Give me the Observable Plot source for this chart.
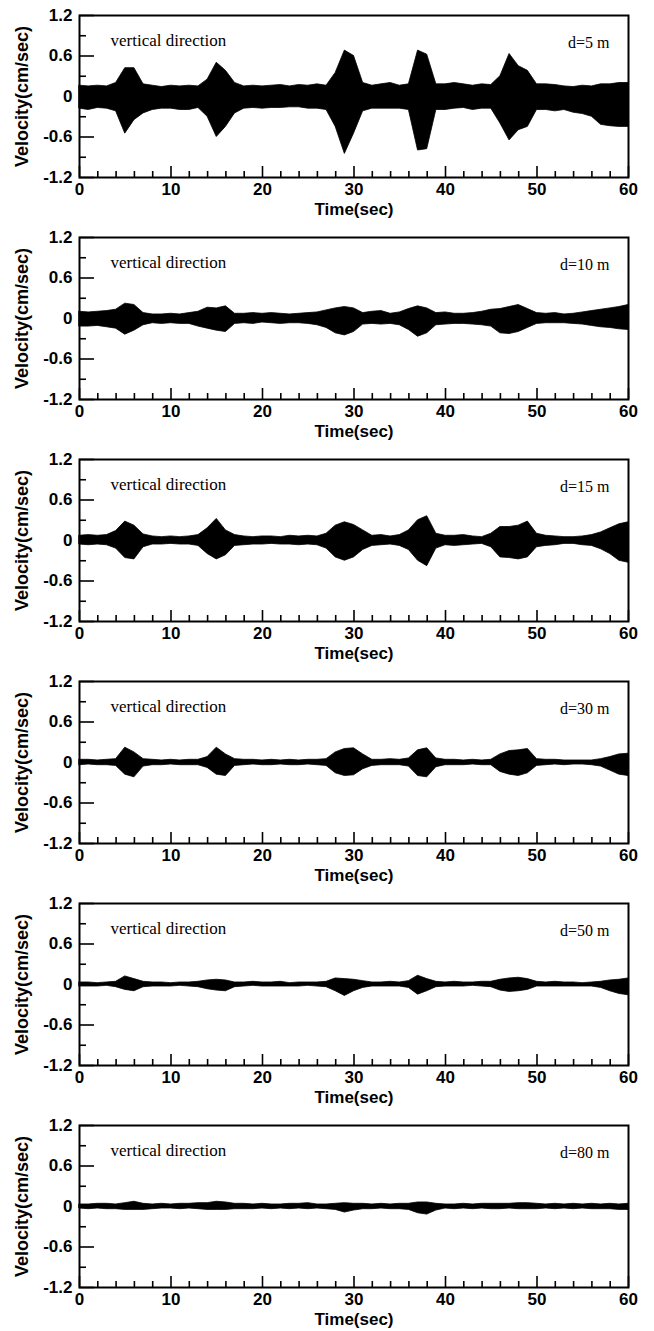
<!DOCTYPE html>
<html>
<head>
<meta charset="utf-8">
<script src="https://cdn.jsdelivr.net/npm/d3@7"></script>
<script src="https://cdn.jsdelivr.net/npm/@observablehq/plot@0.6"></script>
<style>
  html, body { margin: 0; padding: 0; background: #fff; }
  #chart svg { display: block; }
</style>
</head>
<body>
<div id="chart"></div>
<script>
// Time axis (seconds)
const time = [0,1,2,3,4,5,6,7,8,9,10,11,12,13,14,15,16,17,18,19,20,21,22,23,24,25,26,27,28,29,30,
  31,32,33,34,35,36,37,38,39,40,41,42,43,44,45,46,47,48,49,50,51,52,53,54,55,56,57,58,59,60];

// Panel labels
const panelLabels = ["d=5 m", "d=10 m", "d=15 m", "d=30 m", "d=50 m", "d=80 m"];
const directionLabel = "vertical direction";
const xAxisTitle = "Time(sec)";
const yAxisTitle = "Velocity(cm/sec)";

// Tick values / labels
const xMajor = [0, 10, 20, 30, 40, 50, 60];
const xMinor = [2, 4, 6, 8, 12, 14, 16, 18, 22, 24, 26, 28, 32, 34, 36, 38, 42, 44, 46, 48, 52, 54, 56, 58];
const xTickLabels = ["0", "10", "20", "30", "40", "50", "60"];
const yMajor = [-1.2, -0.6, 0, 0.6, 1.2];
const yMinor = [-0.9, -0.3, 0.3, 0.9];
const yTickLabels = ["-1.2", "-0.6", "0", "0.6", "1.2"];

// Velocity envelopes (upper / lower) read from the records, cm/sec
const up5 = [0.16,0.15,0.16,0.15,0.20,0.42,0.42,0.18,0.16,0.14,0.16,0.15,0.16,0.15,0.25,0.50,0.38,0.20,0.15,0.16,
  0.15,0.16,0.17,0.15,0.17,0.16,0.18,0.16,0.35,0.68,0.60,0.20,0.16,0.18,0.20,0.16,0.18,0.68,0.62,0.18,
  0.18,0.20,0.18,0.16,0.18,0.17,0.30,0.63,0.45,0.38,0.18,0.18,0.17,0.15,0.14,0.16,0.15,0.18,0.18,0.20,0.20];
const lo5 = [-0.18,-0.20,-0.17,-0.18,-0.22,-0.55,-0.35,-0.25,-0.20,-0.18,-0.18,-0.20,-0.20,-0.17,-0.30,-0.60,-0.45,-0.25,-0.18,-0.17,
  -0.18,-0.17,-0.17,-0.16,-0.16,-0.18,-0.18,-0.20,-0.45,-0.85,-0.55,-0.22,-0.18,-0.18,-0.18,-0.18,-0.20,-0.80,-0.78,-0.20,
  -0.20,-0.18,-0.17,-0.20,-0.18,-0.18,-0.40,-0.65,-0.50,-0.45,-0.20,-0.20,-0.22,-0.20,-0.24,-0.26,-0.30,-0.42,-0.44,-0.45,-0.45];

const up10 = [0.10,0.09,0.10,0.11,0.13,0.22,0.20,0.08,0.06,0.06,0.07,0.06,0.08,0.10,0.16,0.15,0.18,0.07,0.07,0.08,
  0.07,0.08,0.07,0.06,0.07,0.08,0.09,0.12,0.15,0.17,0.15,0.08,0.10,0.11,0.07,0.09,0.14,0.18,0.15,0.08,
  0.09,0.07,0.07,0.08,0.10,0.13,0.14,0.17,0.20,0.14,0.08,0.07,0.08,0.06,0.07,0.09,0.11,0.13,0.15,0.17,0.20];
const lo10 = [-0.12,-0.12,-0.11,-0.13,-0.15,-0.24,-0.18,-0.10,-0.07,-0.08,-0.07,-0.08,-0.08,-0.12,-0.15,-0.18,-0.20,-0.08,-0.07,-0.08,
  -0.06,-0.07,-0.08,-0.07,-0.07,-0.08,-0.10,-0.14,-0.22,-0.25,-0.20,-0.09,-0.08,-0.09,-0.08,-0.10,-0.17,-0.27,-0.22,-0.10,
  -0.09,-0.08,-0.08,-0.09,-0.10,-0.12,-0.22,-0.23,-0.20,-0.14,-0.08,-0.07,-0.07,-0.07,-0.08,-0.09,-0.11,-0.13,-0.14,-0.16,-0.17];

const up15 = [0.07,0.08,0.07,0.08,0.14,0.28,0.22,0.09,0.06,0.05,0.06,0.05,0.06,0.08,0.18,0.32,0.15,0.08,0.06,0.05,
  0.06,0.06,0.05,0.07,0.06,0.07,0.06,0.10,0.22,0.27,0.23,0.15,0.07,0.08,0.06,0.08,0.15,0.30,0.36,0.10,
  0.07,0.07,0.08,0.06,0.05,0.10,0.20,0.20,0.22,0.28,0.10,0.07,0.06,0.05,0.05,0.06,0.08,0.12,0.18,0.24,0.27];
const lo15 = [-0.06,-0.07,-0.06,-0.07,-0.12,-0.26,-0.28,-0.10,-0.06,-0.06,-0.05,-0.06,-0.06,-0.08,-0.20,-0.28,-0.22,-0.08,-0.07,-0.06,
  -0.06,-0.05,-0.06,-0.06,-0.07,-0.06,-0.07,-0.12,-0.25,-0.30,-0.25,-0.14,-0.08,-0.07,-0.06,-0.08,-0.14,-0.30,-0.38,-0.12,
  -0.07,-0.08,-0.07,-0.06,-0.05,-0.10,-0.25,-0.26,-0.28,-0.25,-0.10,-0.08,-0.07,-0.05,-0.05,-0.07,-0.08,-0.13,-0.20,-0.30,-0.33];

const up30 = [0.04,0.04,0.03,0.04,0.05,0.22,0.15,0.05,0.04,0.03,0.04,0.03,0.04,0.04,0.08,0.22,0.12,0.05,0.04,0.04,
  0.03,0.04,0.03,0.04,0.03,0.04,0.04,0.05,0.15,0.20,0.21,0.12,0.04,0.04,0.05,0.04,0.06,0.18,0.21,0.06,
  0.04,0.04,0.03,0.04,0.03,0.04,0.12,0.17,0.18,0.20,0.05,0.04,0.04,0.03,0.03,0.03,0.03,0.05,0.08,0.12,0.13];
const lo30 = [-0.04,-0.03,-0.04,-0.04,-0.05,-0.18,-0.22,-0.06,-0.04,-0.04,-0.03,-0.04,-0.04,-0.04,-0.08,-0.18,-0.20,-0.05,-0.04,-0.03,
  -0.04,-0.04,-0.03,-0.04,-0.04,-0.03,-0.04,-0.05,-0.16,-0.20,-0.19,-0.10,-0.05,-0.04,-0.04,-0.04,-0.06,-0.20,-0.22,-0.07,
  -0.04,-0.04,-0.04,-0.03,-0.04,-0.04,-0.14,-0.18,-0.20,-0.16,-0.05,-0.04,-0.03,-0.04,-0.03,-0.03,-0.04,-0.06,-0.12,-0.18,-0.20];

const up50 = [0.03,0.03,0.02,0.03,0.04,0.12,0.08,0.04,0.03,0.03,0.02,0.03,0.03,0.04,0.06,0.07,0.06,0.03,0.03,0.04,
  0.03,0.03,0.04,0.02,0.03,0.03,0.03,0.04,0.09,0.08,0.07,0.05,0.03,0.03,0.04,0.03,0.05,0.13,0.08,0.04,
  0.03,0.04,0.03,0.03,0.04,0.04,0.07,0.09,0.10,0.08,0.04,0.03,0.04,0.03,0.03,0.02,0.03,0.04,0.06,0.07,0.09];
const lo50 = [-0.03,-0.03,-0.03,-0.02,-0.04,-0.08,-0.10,-0.04,-0.03,-0.03,-0.03,-0.02,-0.03,-0.04,-0.07,-0.09,-0.10,-0.04,-0.03,-0.02,
  -0.03,-0.03,-0.03,-0.03,-0.03,-0.02,-0.03,-0.04,-0.10,-0.17,-0.10,-0.05,-0.03,-0.03,-0.03,-0.03,-0.05,-0.15,-0.10,-0.04,
  -0.03,-0.03,-0.03,-0.02,-0.03,-0.04,-0.09,-0.11,-0.10,-0.08,-0.03,-0.03,-0.03,-0.03,-0.03,-0.03,-0.03,-0.05,-0.10,-0.14,-0.16];

const up80 = [0.03,0.03,0.04,0.04,0.03,0.05,0.07,0.04,0.03,0.04,0.03,0.04,0.04,0.05,0.05,0.07,0.06,0.04,0.04,0.03,
  0.04,0.03,0.03,0.04,0.04,0.05,0.03,0.03,0.04,0.05,0.04,0.04,0.03,0.04,0.03,0.04,0.04,0.06,0.06,0.04,
  0.03,0.03,0.04,0.03,0.04,0.04,0.04,0.04,0.05,0.05,0.04,0.03,0.04,0.03,0.04,0.03,0.04,0.03,0.04,0.03,0.04];
const lo80 = [-0.03,-0.04,-0.03,-0.04,-0.04,-0.05,-0.05,-0.05,-0.04,-0.03,-0.03,-0.04,-0.03,-0.04,-0.05,-0.05,-0.05,-0.04,-0.04,-0.04,
  -0.03,-0.04,-0.03,-0.04,-0.03,-0.04,-0.03,-0.04,-0.05,-0.09,-0.06,-0.04,-0.04,-0.03,-0.04,-0.04,-0.05,-0.10,-0.12,-0.06,
  -0.03,-0.04,-0.03,-0.04,-0.03,-0.04,-0.04,-0.03,-0.04,-0.04,-0.04,-0.03,-0.04,-0.03,-0.04,-0.03,-0.04,-0.04,-0.04,-0.05,-0.05];

const uppers = [up5, up10, up15, up30, up50, up80];
const lowers = [lo5, lo10, lo15, lo30, lo50, lo80];
const panelHeights = [222, 222, 222, 222, 222, 221];

const sans = "'Liberation Sans', Arial, Helvetica, sans-serif";
const serif = "'Liberation Serif', 'Times New Roman', Times, serif";

function panel(k) {
  const height = panelHeights[k];
  const data = time.map((t, i) => ({t, up: uppers[k][i], lo: lowers[k][i]}));
  return Plot.plot({
    width: 654,
    height,
    marginTop: 15,
    marginLeft: 79,
    marginRight: 26,
    marginBottom: height - 15 - 162,
    style: {fontFamily: sans, fontSize: "17px", fontWeight: "bold", color: "black", background: "white", overflow: "visible"},
    x: {domain: [0, 60]},
    y: {domain: [-1.2, 1.2]},
    marks: [
      Plot.areaY(data, {x: "t", y1: "lo", y2: "up", fill: "black", stroke: "black", strokeWidth: 0.8}),
      Plot.axisX(xMajor, {tickSize: -11, strokeWidth: 1.6, text: null, label: null}),
      Plot.axisX(xMinor, {tickSize: -6, strokeWidth: 1.6, text: null, label: null}),
      Plot.axisX(xMajor, {tickSize: 0, tickPadding: 5, label: null, fontSize: 17, fontWeight: "bold",
        tickFormat: d => xTickLabels[xMajor.indexOf(d)]}),
      Plot.axisY(yMajor, {tickSize: -15, strokeWidth: 1.6, text: null, label: null}),
      Plot.axisY(yMinor, {tickSize: -7, strokeWidth: 1.6, text: null, label: null}),
      Plot.axisY(yMajor, {tickSize: 0, tickPadding: 7, label: null, fontSize: 17, fontWeight: "bold",
        tickFormat: d => yTickLabels[yMajor.indexOf(d)]}),
      Plot.frame({stroke: "black", strokeWidth: 2}),
      Plot.text([directionLabel], {frameAnchor: "top-left", lineAnchor: "middle", dx: 31, dy: 25, textAnchor: "start",
        fontFamily: serif, fontSize: 17, fontWeight: "normal"}),
      Plot.text([panelLabels[k]], {frameAnchor: "top-right", lineAnchor: "middle", dx: -19, dy: 27, textAnchor: "end",
        fontFamily: serif, fontSize: 16, fontWeight: "normal"}),
      Plot.text([yAxisTitle], {frameAnchor: "left", lineAnchor: "middle", dx: -57, rotate: -90, textAnchor: "middle",
        fontSize: 18, fontWeight: "bold"}),
      Plot.text([xAxisTitle], {frameAnchor: "bottom", lineAnchor: "middle", dy: 32, fontSize: 17, fontWeight: "bold"})
    ]
  });
}

const root = document.getElementById("chart");
for (let k = 0; k < 6; ++k) root.appendChild(panel(k));
</script>
</body>
</html>
